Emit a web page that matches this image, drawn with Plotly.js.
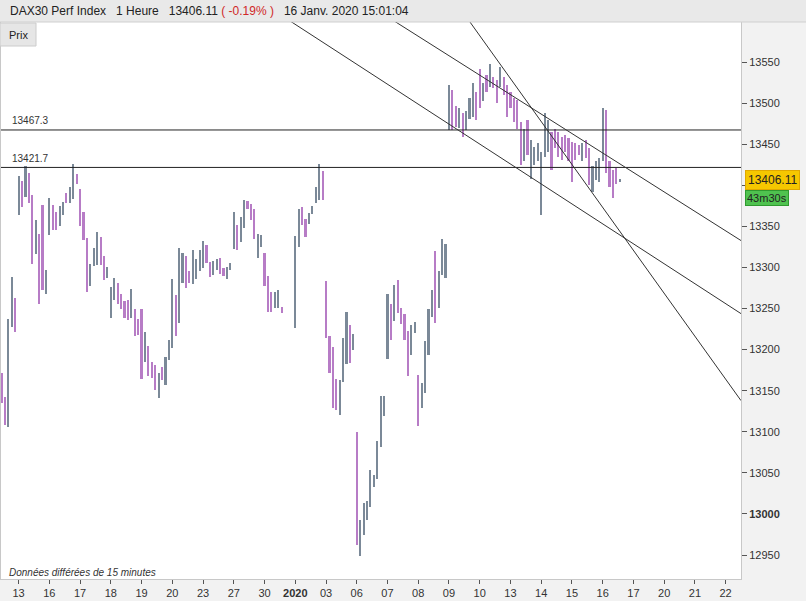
<!DOCTYPE html>
<html><head><meta charset="utf-8">
<script src="https://cdn.plot.ly/plotly-3.0.1.min.js"></script>
<style>html,body{margin:0;padding:0;background:#f2f2f2}</style>
</head><body><div id="chart" style="width:806px;height:601px"></div>
<script>
// ---- data ----
const dayLabels = ['13','16','17','18','19','20','23','27','30','<b>2020</b>','03','06','07','08','09','10','13','14','15','16','17','20','21','22'];
// trading sessions shown (day index 0 = 13 Dec), first hourly slot, number of bars
const sessionDay       = [-1,0,1,2,3,4,5,6,7,8,9,10,11,12,13,14,15,16,17,18,19];
const sessionFirstSlot = [4,0,0,0,0,0,0,0,0,0,0,0,0,0,0,0,0,0,0,0,0];
const sessionBars      = [5,9,9,9,9,9,9,9,9,6,9,9,9,9,9,9,9,9,9,9,6];
const highs = [
 13171,13142,13237,13288,13263,
 13411,13405,13423,13415,13388,13358,13341,13376,13297,
 13385,13376,13368,13375,13380,13391,13398,13426,13414,
 13395,13368,13336,13304,13324,13343,13337,13314,13300,
 13276,13287,13281,13268,13259,13260,13274,13249,13237,
 13249,13221,13204,13185,13181,13171,13179,13191,13212,
 13286,13267,13324,13317,13314,13296,13321,13310,13321,
 13332,13327,13307,13308,13310,13312,13299,13300,13305,
 13368,13352,13361,13382,13381,13377,13371,13341,13339,
 13318,13289,13270,13270,13272,13252,
 13338,13371,13373,13359,13366,13375,13398,13426,13417,
 13283,13216,13203,13164,13163,13214,13246,13230,13219,
 13100,12993,13013,13016,13053,13047,13089,13144,13144,
 13268,13256,13279,13285,13251,13243,13223,13230,13233,
 13169,13159,13210,13250,13272,13320,13296,13334,13329,
 13522,13516,13496,13494,13488,13490,13506,13524,13514,
 13542,13524,13534,13548,13532,13528,13544,13532,13522,
 13514,13506,13504,13477,13469,13479,13455,13447,13451,
 13441,13488,13479,13465,13469,13465,13459,13461,13457,
 13453,13451,13449,13451,13455,13445,13423,13429,13433,
 13494,13492,13430,13419,13421,13408];
const lows = [
 13135,13108,13106,13228,13222,
 13364,13374,13386,13378,13304,13316,13256,13273,13268,
 13339,13345,13345,13350,13364,13379,13379,13383,13402,
 13350,13333,13270,13277,13302,13303,13303,13285,13287,
 13239,13260,13256,13249,13238,13236,13238,13217,13218,
 13164,13185,13168,13166,13151,13141,13163,13157,13187,
 13202,13216,13232,13281,13275,13281,13280,13286,13296,
 13299,13305,13288,13291,13297,13292,13289,13286,13297,
 13323,13321,13331,13348,13371,13358,13335,13312,13325,
 13277,13246,13246,13251,13251,13244,
 13226,13325,13352,13337,13353,13365,13378,13382,13382,
 13214,13171,13129,13126,13121,13161,13182,13184,13199,
 12962,12949,12974,12993,13009,13033,13043,13082,13119,
 13189,13212,13235,13245,13231,13212,13168,13193,13220,
 13107,13129,13147,13194,13240,13232,13251,13291,13287,
 13467,13467,13471,13470,13459,13467,13481,13483,13479,
 13494,13502,13514,13520,13518,13500,13520,13510,13483,
 13494,13477,13469,13425,13429,13437,13408,13425,13429,
 13364,13435,13441,13419,13445,13435,13431,13441,13429,
 13404,13431,13437,13429,13433,13400,13392,13406,13404,
 13429,13415,13398,13384,13402,13404];
const barDir = [
 'd','d','u','u','d',
 'u','d','u','d','d','u','d','d','u',
 'u','d','d','u','u','d','u','u','d',
 'd','d','d','u','u','u','d','d','u',
 'u','u','d','d','d','d','u','d','d',
 'd','u','d','d','d','u','d','u','u',
 'u','d','u','u','d','d','u','u','u',
 'u','d','d','u','u','d','d','u','u',
 'u','d','u','u','d','d','d','u','u',
 'd','d','d','u','u','d',
 'u','u','d','d','u','u','u','u','d',
 'd','d','d','d','u','u','u','d','u',
 'd','u','u','u','u','u','u','u','u',
 'u','d','u','d','d','d','d','u','u',
 'd','u','u','u','u','d','u','u','u',
 'u','d','d','u','d','u','u','u','d',
 'd','u','d','u','d','d','u','d','d',
 'd','d','d','d','u','d','u','u','u',
 'u','u','u','d','d','d','d','d','d',
 'd','d','d','u','d','d','u','u','u',
 'u','d','d','d','d','u'];
const levelValues = [13467.3, 13421.7];
const levelLabels = ['13467.3', '13421.7'];
const trendAx = [9, 23.5],  trendAy = [13676.1, 13332.7];
const trendBx = [8, 23.5],  trendBy = [13620.1, 13243.8];
const trendCx = [14, 23.5], trendCy = [13634.4, 13137.9];
const lastPrice = 13406.11;
const lastText = '13406.11';
const timerText = '43m30s';
const yTicks = [12950,13000,13050,13100,13150,13200,13250,13300,13350,13400,13450,13500,13550];
// 13400 label is hidden behind the last-price box in the reference
const yTickText = ['12950','<b>13000</b>','13050','13100','13150','13200','13250','13300','13350','','13450','13500','13550'];

// ---- build bar positions ----
const slotsPerDay = 9;
const xs = [];
sessionDay.forEach((d, i) => {
  for (let k = 0; k < sessionBars[i]; k++) xs.push(d + (sessionFirstSlot[i] + k) / slotsPerDay);
});
const UP = '#7b8998', DOWN = '#b77cc6';

// ---- layout geometry ----
const L = 1, R = 741, T = 22, B = 579;
const px2x = p => (p - L) / (R - L);
const py2y = p => (B - p) / (B - T);
const xRange = [-0.5725, 23.5];
const yRange = [12920.8, 13598.7];

const traces = [
  {type:'bar', x: xs, base: lows, y: highs.map((h,i)=>h-lows[i]), width: 0.07,
   marker:{color: barDir.map(d => d==='u'?UP:DOWN), line:{width:0}}, hoverinfo:'skip', showlegend:false},
];
levelValues.forEach(v => traces.push({type:'scatter', mode:'lines', x: xRange, y:[v,v],
  line:{color:'#222', width:1}, hoverinfo:'skip', showlegend:false}));
[[trendAx,trendAy],[trendBx,trendBy],[trendCx,trendCy]].forEach(([x,y]) => traces.push({type:'scatter', mode:'lines', x, y,
  line:{color:'#333', width:1}, hoverinfo:'skip', showlegend:false}));

const font = 'Liberation Sans, Arial, sans-serif';
const annotations = [
  {xref:'paper', yref:'paper', x:px2x(8), y:py2y(11), xanchor:'left', yanchor:'middle', showarrow:false,
   text:'DAX30 Perf Index&nbsp;&nbsp;&nbsp;1 Heure&nbsp;&nbsp;&nbsp;13406.11 <span style="color:#d02828">( -0.19% )</span>&nbsp;&nbsp;&nbsp;16 Janv. 2020 15:01:04',
   font:{family:font, size:12, color:'#222'}},
  {xref:'paper', yref:'paper', x:px2x(18), y:py2y(35), xanchor:'center', yanchor:'middle', showarrow:false,
   text:'Prix', font:{family:font, size:11, color:'#222'}},
  {xref:'paper', yref:'paper', x:px2x(7), y:py2y(572), xanchor:'left', yanchor:'middle', showarrow:false,
   text:'<i>Données différées de 15 minutes</i>', font:{family:font, size:10, color:'#333'}},
  {xref:'paper', yref:'y', x:1, y:lastPrice, xanchor:'left', yanchor:'middle', xshift:4, showarrow:false,
   text:lastText, bgcolor:'#f6c700', bordercolor:'#e0a800', borderwidth:1, borderpad:2,
   font:{family:font, size:12, color:'#222'}},
  {xref:'paper', yref:'y', x:1, y:lastPrice, xanchor:'left', yanchor:'top', xshift:4, yshift:-10, showarrow:false,
   text:timerText, bgcolor:'#4fc24f', bordercolor:'#2f9a2f', borderwidth:1, borderpad:1,
   font:{family:font, size:11, color:'#222'}},
];
levelValues.forEach((v,i) => annotations.push({xref:'paper', yref:'y', x:px2x(10), y:v, yshift:9,
  xanchor:'left', yanchor:'middle', showarrow:false, text:levelLabels[i], font:{family:font, size:10, color:'#333'}}));

const shapes = [
  {type:'rect', xref:'paper', yref:'paper', x0:px2x(0), x1:px2x(806), y0:py2y(0), y1:py2y(22),
   fillcolor:'#e9e9e9', line:{width:0}, layer:'above'},
  {type:'line', xref:'paper', yref:'paper', x0:px2x(0), x1:px2x(806), y0:py2y(22), y1:py2y(22),
   line:{color:'#cfcfcf', width:1}, layer:'above'},
  {type:'rect', xref:'paper', yref:'paper', x0:px2x(0), x1:px2x(36), y0:py2y(46), y1:py2y(23),
   fillcolor:'#e6e6e6', line:{color:'#cccccc', width:1}, layer:'above'},
];

const layout = {
  width:806, height:601,
  margin:{l:L, r:806-R, t:T, b:601-B, pad:0},
  paper_bgcolor:'#f2f2f2', plot_bgcolor:'#ffffff',
  showlegend:false, bargap:0,
  xaxis:{range:xRange, tickvals:dayLabels.map((_,i)=>i), ticktext:dayLabels, ticks:'outside', ticklen:4,
    tickcolor:'#555', showgrid:false, zeroline:false, showline:true, linecolor:'#c8c8c8', mirror:true,
    tickfont:{family:font, size:11, color:'#333'}, fixedrange:true},
  yaxis:{range:yRange, side:'right', tickvals:yTicks, ticktext:yTickText, ticks:'outside', ticklen:5,
    tickcolor:'#555', showgrid:false, zeroline:false, showline:true, linecolor:'#c8c8c8', mirror:true,
    tickfont:{family:font, size:11, color:'#333'}, fixedrange:true},
  annotations, shapes,
};
Plotly.newPlot('chart', traces, layout, {displayModeBar:false, staticPlot:true});
</script>
</body></html>
